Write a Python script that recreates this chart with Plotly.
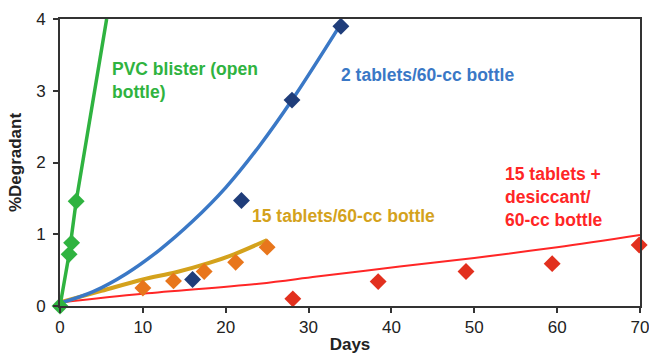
import plotly.graph_objects as go

# ---- data ----
pvc_days = [0, 1.1, 1.4, 1.95]
pvc_vals = [0, 0.72, 0.88, 1.46]
pvc_fit_days = [0, 1.1, 1.95, 5.63]
pvc_fit_vals = [0, 0.72, 1.46, 4.0]

two_days = [16, 21.9, 28, 33.9]
two_vals = [0.37, 1.47, 2.87, 3.9]
two_fit_days = [0, 4, 8, 12, 16, 20, 24, 28, 34]
two_fit_vals = [0.04, 0.2, 0.45, 0.78, 1.18, 1.65, 2.22, 2.87, 3.95]

fif_days = [10, 13.7, 17.4, 21.2, 25]
fif_vals = [0.25, 0.35, 0.48, 0.61, 0.82]
fif_fit_days = [0, 5, 10, 14, 18, 21, 25]
fif_fit_vals = [0.05, 0.21, 0.37, 0.47, 0.6, 0.72, 0.92]

des_days = [28.1, 38.4, 49, 59.4, 69.9]
des_vals = [0.1, 0.34, 0.48, 0.59, 0.85]
des_fit_days = [0, 10, 24, 31, 41, 50, 60, 70]
des_fit_vals = [0.05, 0.17, 0.31, 0.41, 0.55, 0.67, 0.82, 0.99]

x_ticks = [0, 10, 20, 30, 40, 50, 60, 70]
y_ticks = [0, 1, 2, 3, 4]

GREEN = "#2fb340"
BLUE_L = "#3a78c6"
BLUE_M = "#1f3d7a"
GOLD = "#d4a21c"
ORANGE = "#e8761c"
RED_L = "#ff2626"
RED_M = "#e2301e"

FONT = "Liberation Sans, Arial, sans-serif"

fig = go.Figure()
fig.add_trace(go.Scatter(x=des_fit_days, y=des_fit_vals, mode="lines",
                         line=dict(color=RED_L, width=2, shape="spline"), hoverinfo="skip"))
fig.add_trace(go.Scatter(x=fif_fit_days, y=fif_fit_vals, mode="lines",
                         line=dict(color=GOLD, width=4, shape="spline"), hoverinfo="skip"))
fig.add_trace(go.Scatter(x=two_fit_days, y=two_fit_vals, mode="lines",
                         line=dict(color=BLUE_L, width=3.5, shape="spline"), hoverinfo="skip"))
fig.add_trace(go.Scatter(x=pvc_fit_days, y=pvc_fit_vals, mode="lines",
                         line=dict(color=GREEN, width=3.5), hoverinfo="skip"))

mk = dict(symbol="diamond", size=13, line=dict(width=0))
fig.add_trace(go.Scatter(x=des_days, y=des_vals, mode="markers", cliponaxis=False,
                         marker=dict(mk, color=RED_M)))
fig.add_trace(go.Scatter(x=fif_days, y=fif_vals, mode="markers", cliponaxis=False,
                         marker=dict(mk, color=ORANGE)))
fig.add_trace(go.Scatter(x=two_days, y=two_vals, mode="markers", cliponaxis=False,
                         marker=dict(mk, color=BLUE_M)))
fig.add_trace(go.Scatter(x=pvc_days, y=pvc_vals, mode="markers", cliponaxis=False,
                         marker=dict(mk, color=GREEN)))

# pixel -> data helpers for label placement
L, R, T, B = 60, 640, 19, 306
def dx(px):
    return (px - L) / (R - L) * 70
def dy(py):
    return (B - py) / (B - T) * 4

labels = [
    ("<b>PVC blister (open<br>bottle)</b>", 111, 80, GREEN),
    ("<b>2 tablets/60-cc bottle</b>", 340, 74.5, BLUE_L),
    ("<b>15 tablets/60-cc bottle</b>", 251, 215.5, GOLD),
    ("<b>15 tablets +<br>desiccant/<br>60-cc bottle</b>", 504, 196.5, RED_L),
]
for txt, px, py, col in labels:
    fig.add_annotation(x=dx(px), y=dy(py), xref="x", yref="y", text=txt,
                       showarrow=False, xanchor="left", yanchor="middle", align="left",
                       font=dict(family=FONT, size=17.5, color=col), borderpad=0)

axis_common = dict(showline=True, linecolor="#333333", linewidth=2, mirror=True,
                   showgrid=False, zeroline=False, ticks="outside", ticklen=5,
                   tickcolor="#333333", tickwidth=1.5, automargin=False,
                   ticklabeloverflow="allow",
                   tickfont=dict(family=FONT, size=17, color="#222222"))
fig.update_layout(
    width=649, height=354,
    margin=dict(l=60, r=9, t=19, b=48, autoexpand=False),
    paper_bgcolor="white", plot_bgcolor="white",
    showlegend=False,
    xaxis=dict(axis_common, range=[0, 70], tickvals=x_ticks,
               title=dict(text="<b>Days</b>", font=dict(family=FONT, size=17, color="#222222"),
                          standoff=2)),
    yaxis=dict(axis_common, range=[0, 4], tickvals=y_ticks, ticklabelstandoff=4,
               title=dict(text="<b>%Degradant</b>", font=dict(family=FONT, size=17, color="#222222"),
                          standoff=10)),
)

fig.write_html("out.html")
